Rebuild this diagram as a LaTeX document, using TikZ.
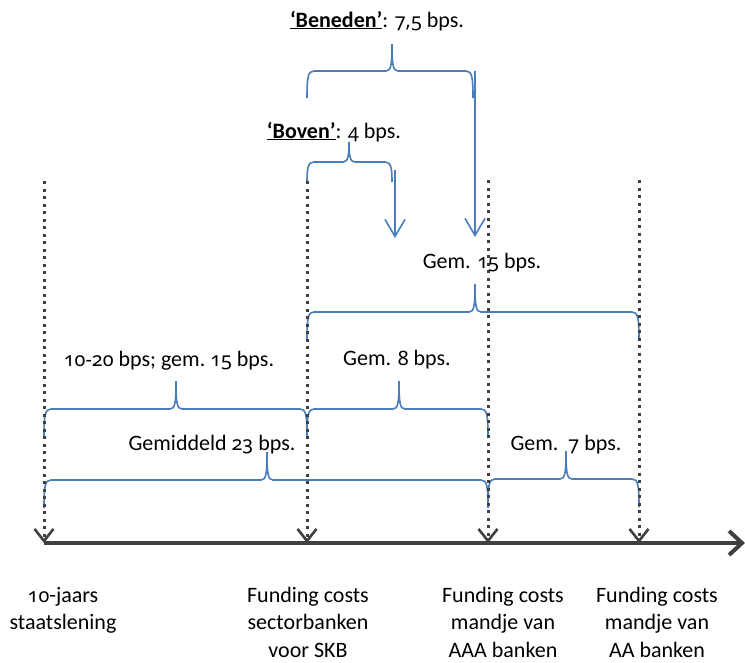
\documentclass[tikz,border=0pt]{standalone}
\usepackage{fontspec}
\setmainfont{Carlito}
\newfontfamily\osffont[Numbers=OldStyle,Scale=0.9]{Noto Sans}
\newcommand{\os}[1]{{\osffont #1}}
\usetikzlibrary{arrows.meta}
\definecolor{bblue}{HTML}{4A7EBB}
\definecolor{dgray}{HTML}{404040}
\newcommand{\spanbrace}[5]{%
  \draw[brace] (#1,#4+#5) .. controls (#1,#4+6) and (#1+1,#4) .. (#1+7,#4)
    -- (#3-6,#4) .. controls (#3-1,#4) and (#3,#4-6) .. (#3,#4-#5)
    .. controls (#3,#4-6) and (#3+1,#4) .. (#3+6,#4)
    -- (#2-7,#4) .. controls (#2-1,#4) and (#2,#4+6) .. (#2,#4+#5);}
\begin{document}
\begin{tikzpicture}[x=1pt,y=-1pt,
  brace/.style={draw=bblue, line width=1.6pt},
  bluearrow/.style={draw=bblue, line width=1.6pt, -{Straight Barb[length=17pt,width=20pt,line width=1.6pt]}},
  dotline/.style={draw=dgray, line width=3pt, dash pattern=on 3pt off 4.5pt, -{Straight Barb[length=12pt,width=19pt,line width=2.6pt]}},
  axisline/.style={draw=dgray, line width=4.5pt, -{Straight Barb[length=13pt,width=24pt,line width=4pt]}},
  lbl/.style={font=\fontsize{22}{27.5}\selectfont, inner sep=0pt, anchor=base},
  cat/.style={font=\fontsize{22}{27.5}\selectfont, inner sep=0pt, anchor=north, align=center}]
\useasboundingbox (0,0) rectangle (745,662);
% axis
\coordinate (a0) at (44,543);
\coordinate (a1) at (745,543);
\draw[axisline] (a0) -- (a1);
% braces
\spanbrace{44}{488}{267}{480}{28}
\spanbrace{44}{307}{176}{409}{28}
\spanbrace{307}{488}{399}{409}{28}
\spanbrace{488}{639}{566}{479}{28}
\spanbrace{307}{639}{475}{312}{28}
\spanbrace{307}{392}{349}{162}{20}
\spanbrace{307}{473}{392}{71}{27}
% blue arrows
\coordinate (bo1) at (395,170);
\coordinate (bo2) at (395,238);
\coordinate (be1) at (475,71);
\coordinate (be2) at (475,237);
\draw[bluearrow] (bo1) -- (bo2);
\draw[bluearrow] (be1) -- (be2);
% dotted lines
\coordinate (t1) at (44,181);  \coordinate (b1) at (44,543);
\coordinate (t2) at (307,181); \coordinate (b2) at (307,543);
\coordinate (t3) at (488,180); \coordinate (b3) at (488,543);
\coordinate (t4) at (639,180); \coordinate (b4) at (639,543);
\draw[dotline] (t1) -- (b1);
\draw[dotline] (t2) -- (b2);
\draw[dotline] (t3) -- (b3);
\draw[dotline] (t4) -- (b4);
% labels
\node[lbl] (beneden) at (377,27) {\underline{\textbf{‘Beneden’}}: \os{7,5} bps.};
\node[lbl] (boven) at (334,138) {\underline{\textbf{‘Boven’}}: \os{4} bps.};
\node[lbl] (g15) at (482,268) {Gem. \os{15} bps.};
\node[lbl] (r1020) at (169,366) {\os{10-20} bps; gem.\ \os{15} bps.};
\node[lbl] (g8) at (397,365) {Gem. \os{8} bps.};
\node[lbl] (g23) at (212,450) {Gemiddeld \os{23} bps.};
\node[lbl] (g7) at (566,450) {Gem.\ \ \os{7} bps.};
\node[cat] (c1) at (63,587) {\os{10}-jaars\\staatslening};
\node[cat] (c2) at (308,587) {Funding costs\\sectorbanken\\voor SKB};
\node[cat] (c3) at (503,587) {Funding costs\\mandje van\\AAA banken};
\node[cat] (c4) at (657,587) {Funding costs\\mandje van\\AA banken};
\end{tikzpicture}
\end{document}
